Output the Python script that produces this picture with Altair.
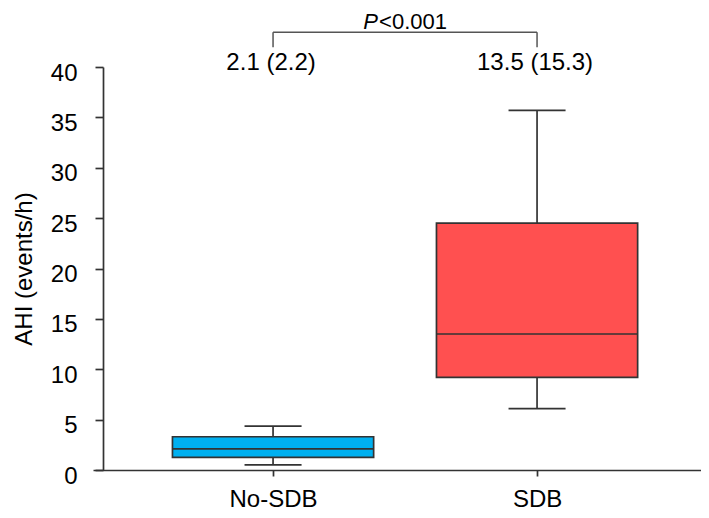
import altair as alt
import pandas as pd

# ---- data ----
categories = ["No-SDB", "SDB"]
whisker_low = [0.5, 6.1]
q1 = [1.25, 9.2]
median = [2.1, 13.5]
q3 = [3.3, 24.5]
whisker_high = [4.35, 35.7]
box_colors = ["#00b0f0", "#ff5050"]

annot_text = ["2.1 (2.2)", "13.5 (15.3)"]   # median (IQR) above each box
annot_level = 40.36
bracket_top = 43.45
bracket_bottom = 41.95
p_level = 44.48

df = pd.DataFrame({
    "cat": categories,
    "idx": list(range(len(categories))),
    "wlo": whisker_low,
    "q1": q1,
    "med": median,
    "q3": q3,
    "whi": whisker_high,
    "text": annot_text,
})

FONT = "Liberation Sans"
FS = 24
LINE = "#333333"
xs = alt.Scale(domain=[-0.682, 1.621], nice=False, zero=False)
ys = alt.Scale(domain=[0, 40], nice=False, zero=True)

label_expr = " : ".join(
    [f"datum.value == {i} ? '{c}'" for i, c in enumerate(categories)]
) + " : ''"

base = alt.Chart(df).transform_calculate(
    xl="datum.idx - 0.381", xr="datum.idx + 0.381",
    cl="datum.idx - 0.108", cr="datum.idx + 0.108",
    ann=str(annot_level), btop=str(bracket_top), bbot=str(bracket_bottom),
)

whisker = base.mark_rule(color=LINE, strokeWidth=1.7).encode(
    x=alt.X("idx:Q", scale=xs, axis=alt.Axis(
        values=list(range(len(categories))), labelExpr=label_expr, title=None, grid=False,
        tickSize=6, tickWidth=1.7, tickColor=LINE, domainColor=LINE,
        domainWidth=1.7, labelFont=FONT, labelFontSize=FS, labelColor="black",
        labelPadding=11)),
    y=alt.Y("wlo:Q", scale=ys, axis=alt.Axis(
        values=[0, 5, 10, 15, 20, 25, 30, 35, 40], title="AHI (events/h)",
        grid=False, offset=-10, tickSize=8, tickWidth=1.7, tickColor=LINE,
        domainColor=LINE, domainWidth=1.7, labelFont=FONT, labelFontSize=FS,
        labelColor="black", labelPadding=18, labelOffset=6,
        titleFont=FONT, titleFontSize=FS, titleFontWeight="normal",
        titleColor="black", titlePadding=14)),
    y2="whi:Q",
)

box = base.mark_rect(stroke=LINE, strokeWidth=1.7).encode(
    x=alt.X("xl:Q", scale=xs), x2="xr:Q",
    y=alt.Y("q1:Q", scale=ys), y2="q3:Q",
    color=alt.Color("cat:N", scale=alt.Scale(domain=categories, range=box_colors), legend=None),
)

med = base.mark_rule(color=LINE, strokeWidth=1.7).encode(
    x=alt.X("xl:Q", scale=xs), x2="xr:Q", y=alt.Y("med:Q", scale=ys))
cap_lo = base.mark_rule(color=LINE, strokeWidth=1.7).encode(
    x=alt.X("cl:Q", scale=xs), x2="cr:Q", y=alt.Y("wlo:Q", scale=ys))
cap_hi = base.mark_rule(color=LINE, strokeWidth=1.7).encode(
    x=alt.X("cl:Q", scale=xs), x2="cr:Q", y=alt.Y("whi:Q", scale=ys))

ann_text = base.mark_text(font=FONT, fontSize=FS, color="black", baseline="middle", dx=-2).encode(
    x=alt.X("idx:Q", scale=xs), y=alt.Y("ann:Q", scale=ys), text="text:N")

br_h = base.mark_rule(color="#555555", strokeWidth=1.5).encode(
    x=alt.X("min(idx):Q", scale=xs), x2="max(idx):Q", y=alt.Y("min(btop):Q", scale=ys))
br_v = base.mark_rule(color="#555555", strokeWidth=1.5).encode(
    x=alt.X("idx:Q", scale=xs), y=alt.Y("bbot:Q", scale=ys), y2="btop:Q")

PFS = 22
p_base = base.transform_aggregate(
    lo="min(idx)", hi="max(idx)"
).transform_calculate(mid="(datum.lo + datum.hi) / 2", py=str(p_level))
p_ital = p_base.mark_text(font=FONT, fontSize=PFS, fontStyle="italic", color="black",
                          align="right", baseline="middle", dx=-27).encode(
    x=alt.X("mid:Q", scale=xs), y=alt.Y("py:Q", scale=ys), text=alt.value("P"))
p_rest = p_base.mark_text(font=FONT, fontSize=PFS, color="black",
                          align="left", baseline="middle", dx=-26).encode(
    x=alt.X("mid:Q", scale=xs), y=alt.Y("py:Q", scale=ys), text=alt.value("<0.001"))

chart = alt.layer(
    whisker, box, med, cap_lo, cap_hi, ann_text, br_h, br_v, p_ital, p_rest
).properties(
    width=608, height=403,
    background="white",
    autosize=alt.AutoSizeParams(type="none"),
    padding={"left": 85, "top": 59, "right": 0, "bottom": 40},
).configure_view(stroke=None)

chart.save("out.html", embed_options={"renderer": "svg", "actions": False})
